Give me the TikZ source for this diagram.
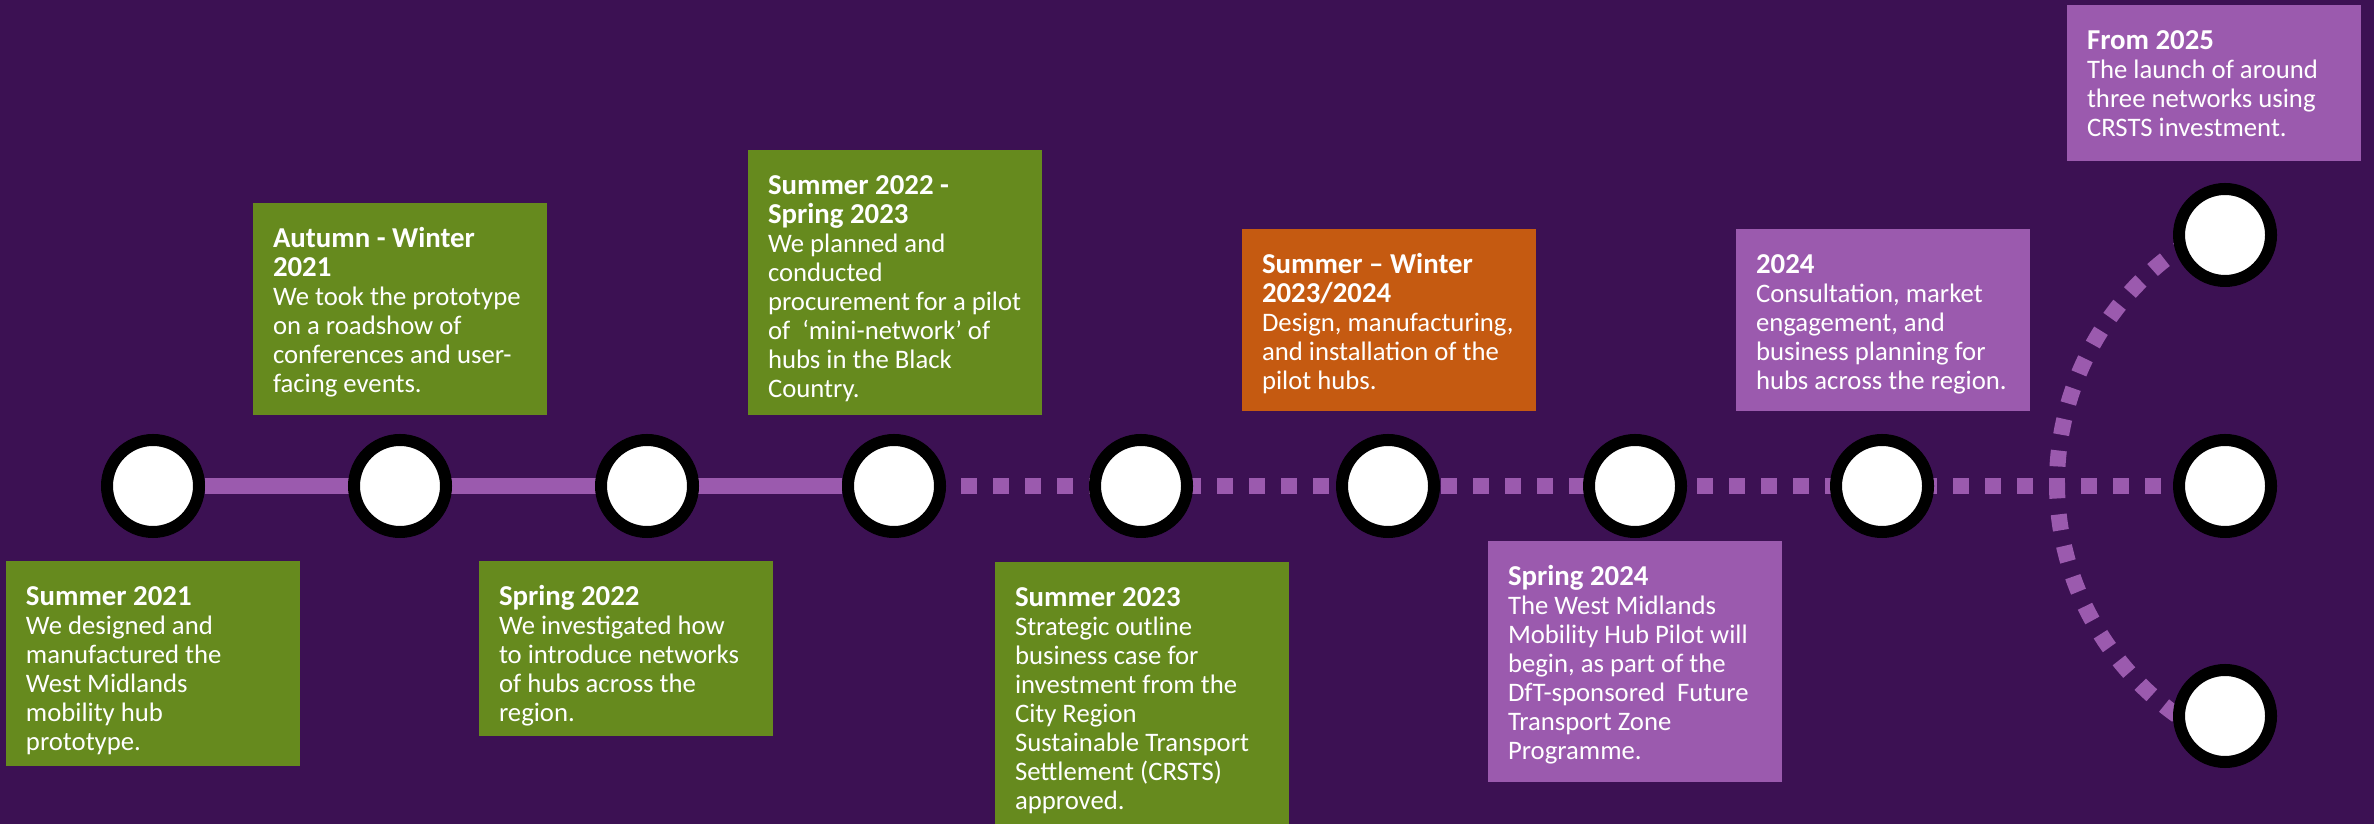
\documentclass[tikz,border=0pt]{standalone}
\usepackage{fontspec}
\setmainfont{Carlito}
\usetikzlibrary{backgrounds}

\definecolor{bgpurple}{RGB}{60,17,83}
\definecolor{lilac}{RGB}{155,90,174}
\definecolor{leafgreen}{RGB}{102,138,30}
\definecolor{rust}{RGB}{197,90,17}

% text of one milestone box: height, title, body
\newcommand{\stagetext}[3]{\parbox[t][#1][t]{2.54cm}{\raggedright\rule{0pt}{0.45cm}\textbf{\fontsize{8.2}{8.25}\selectfont #2}\\#3}}

\tikzset{
  stage/.style={anchor=north west, inner xsep=0.2cm, inner ysep=0pt, outer sep=0pt, text=white, font=\fontsize{7.6}{8.25}\selectfont},
  hub/.style={circle, draw=black, line width=0.12cm, fill=white, minimum size=0.92cm, inner sep=0pt},
  trackline/.style={line width=0.16cm, lilac},
  dotline/.style={trackline, dash pattern=on 0.16cm off 0.16cm}
}

\begin{document}
\begin{tikzpicture}
	% Hubs on the timeline
	\node[hub] (hub1) at (1.53,-4.86) {};
	\node[hub] (hub2) at (4.00,-4.86) {};
	\node[hub] (hub3) at (6.47,-4.86) {};
	\node[hub] (hub4) at (8.94,-4.86) {};
	\node[hub] (hub5) at (11.41,-4.86) {};
	\node[hub] (hub6) at (13.88,-4.86) {};
	\node[hub] (hub7) at (16.35,-4.86) {};
	\node[hub] (hub8) at (18.82,-4.86) {};
	% Future networks
	\node[hub] (hubtop) at (22.25,-2.35) {};
	\node[hub] (hubmid) at (22.25,-4.86) {};
	\node[hub] (hubbot) at (22.25,-7.16) {};
	\coordinate (bend) at (23.42,-4.83);
	% Done (green)
	\node[stage, fill=leafgreen] (sum21) at (0.06,-5.61) {\stagetext{2.05cm}{Summer 2021}{We designed and\\manufactured the\\West Midlands\\mobility hub\\prototype.}};
	\node[stage, fill=leafgreen] (aut21) at (2.53,-2.03) {\stagetext{2.12cm}{Autumn - Winter\\2021}{We took the prototype\\on a roadshow of\\conferences and user-\\facing events.}};
	\node[stage, fill=leafgreen] (spr22) at (4.79,-5.61) {\stagetext{1.75cm}{Spring 2022}{We investigated how\\to introduce networks\\of hubs across the\\region.}};
	\node[stage, fill=leafgreen] (sum22) at (7.48,-1.50) {\stagetext{2.65cm}{Summer 2022 -\\Spring 2023}{We planned and\\conducted\\procurement for a pilot\\of\ \ ‘mini-network’ of\\hubs in the Black\\Country.}};
	\node[stage, fill=leafgreen] (sum23) at (9.95,-5.62) {\stagetext{2.62cm}{Summer 2023}{Strategic outline\\business case for\\investment from the\\City Region\\Sustainable Transport\\Settlement (CRSTS)\\approved.}};
	% Now (orange)
	\node[stage, fill=rust] (win23) at (12.42,-2.29) {\stagetext{1.82cm}{Summer – Winter\\2023/2024}{Design, manufacturing,\\and installation of the\\pilot hubs.}};
	% Next (lilac)
	\node[stage, fill=lilac] (spr24) at (14.88,-5.41) {\stagetext{2.41cm}{Spring 2024}{The West Midlands\\Mobility Hub Pilot will\\begin, as part of the\\DfT-sponsored\ \ Future\\Transport Zone\\Programme.}};
	\node[stage, fill=lilac] (yr24) at (17.36,-2.29) {\stagetext{1.82cm}{2024}{Consultation, market\\engagement, and\\business planning for\\hubs across the region.}};
	\node[stage, fill=lilac] (from25) at (20.67,-0.05) {\stagetext{1.56cm}{From 2025}{The launch of around\\three networks using\\CRSTS investment.}};
	% Track
	\begin{scope}[on background layer]
		\fill[bgpurple] (0,0) rectangle (23.74,-8.24);
		\draw[trackline] (hub1) -- (hub4);
		\draw[dotline, dash phase=0.17cm] (hub4) -- (hubmid);
		\draw[dotline] (bend) ++(122:2.85) arc[start angle=122, end angle=238, radius=2.85];
	\end{scope}
\end{tikzpicture}
\end{document}
